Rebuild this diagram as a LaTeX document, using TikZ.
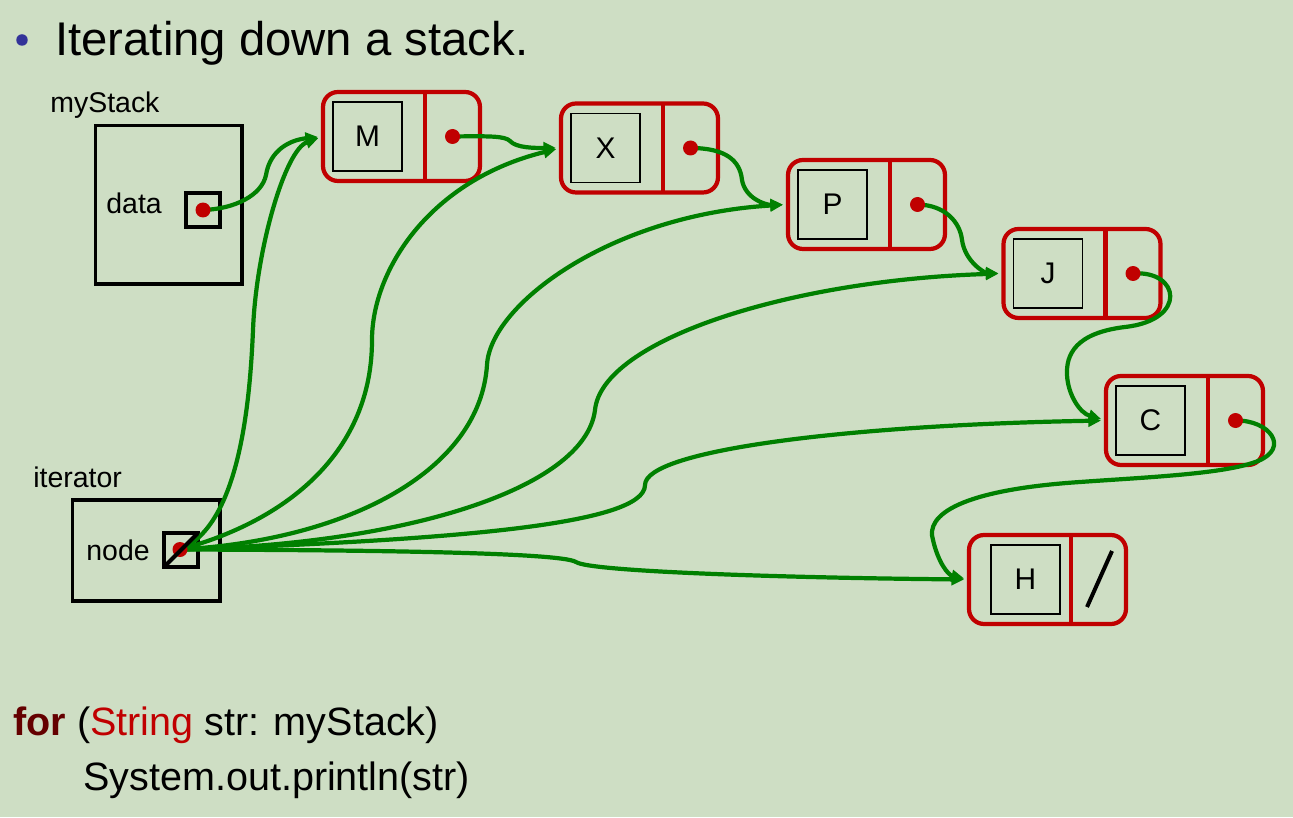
\documentclass[tikz,border=0pt]{standalone}
\usepackage{fontspec}
\setmainfont{Liberation Sans}
\usetikzlibrary{arrows.meta,calc}
\definecolor{bg}{RGB}{206,222,196}
\definecolor{nred}{RGB}{192,0,0}
\definecolor{lgreen}{RGB}{0,128,0}
\definecolor{bulletblue}{RGB}{51,51,153}
\definecolor{kw}{RGB}{100,0,0}
\newcommand{\listcell}[5]{%
  \node[outer] (#1) at (#2,#3) {};
  \node[inbox] (#1v) at ($(#1.north west)+(#5,10)$) {#4};
  \draw[divider] ($(#1.north west)+(102,0)$) -- ($(#1.south west)+(102,0)$);
}
\begin{document}
\begin{tikzpicture}[x=0.02cm,y=-0.02cm,
  outer/.style={draw=nred, line width=2.4pt, rounded corners=0.3cm, minimum width=3.14cm, minimum height=1.78cm, anchor=north west, inner sep=0pt, outer sep=0pt},
  inbox/.style={draw=black, line width=0.9pt, minimum size=1.38cm, anchor=north west, inner sep=0pt, outer sep=0pt, font=\fontsize{17}{20}\selectfont},
  divider/.style={draw=nred, line width=2.4pt},
  refbox/.style={draw=black, line width=2.27pt, anchor=north west, inner sep=0pt, outer sep=0pt},
  ptrbox/.style={draw=black, line width=2.27pt, minimum size=0.68cm, inner sep=0pt, outer sep=0pt},
  dot/.style={circle, fill=nred, minimum size=0.3cm, inner sep=0pt},
  link/.style={draw=lgreen, line width=2.4pt, -{Triangle[length=7.2pt,width=6.6pt]}, shorten >=0.1cm},
  lbl/.style={anchor=base west, inner sep=0pt, font=\fontsize{16.2}{19}\selectfont},
  codetxt/.style={anchor=base west, inner sep=0pt, font=\fontsize{22.5}{27}\selectfont},
  titletxt/.style={anchor=base west, inner sep=0pt, font=\fontsize{26.9}{32}\selectfont}
]
\fill[bg] (0,0) rectangle (1293,817);
\useasboundingbox (0,0) rectangle (1293,817);

% title
\node[circle, fill=bulletblue, minimum size=0.23cm, inner sep=0pt] (bul) at (22,40) {};
\node[titletxt] (title) at (55,56) {Iterating down a stack.};

% myStack
\node[lbl] (lmy) at (50,113) {myStack};
\node[refbox, minimum width=2.93cm, minimum height=3.17cm] (stack) at (95.5,125.5) {};
\node[lbl] (ldata) at (106,214) {data};
\node[ptrbox] (dbox) at (203,210) {};
\coordinate (dd) at (203,210);

% iterator
\node[lbl] (lit) at (33,487) {iterator};
\node[refbox, minimum width=2.95cm, minimum height=2.02cm] (iter) at (72.5,500) {};
\node[lbl] (lnode) at (86,560) {node};
\node[ptrbox] (nbox) at (180.75,550.25) {};
\coordinate (nd) at (180,549.5);

% list cells
\listcell{M}{323}{92}{M}{10}
\listcell{X}{561}{103.5}{X}{10}
\listcell{P}{788}{160}{P}{10}
\listcell{J}{1003.5}{229}{J}{10}
\listcell{C}{1106}{376}{C}{10}
\listcell{H}{969}{535}{H}{22}
\coordinate (Md) at ($(M.north west)+(129.5,44.5)$);
\coordinate (Xd) at ($(X.north west)+(129.5,44.5)$);
\coordinate (Pd) at ($(P.north west)+(129.5,44.5)$);
\coordinate (Jd) at ($(J.north west)+(129.5,44.5)$);
\coordinate (Cd) at ($(C.north west)+(129.5,44.5)$);
\coordinate (Hs1) at (1087,607);
\coordinate (Hs2) at (1112,551);
\draw[line width=2.27pt] (Hs1) -- (Hs2);

% chain links
\draw[link] (dd) .. controls (235,209) and (262,195) .. (266,175) .. controls (270,150) and (290,140) .. (M.west);
\draw[link] (Md) .. controls (490,136) and (505,136) .. (510,141) .. controls (516,148) and (535,148) .. (X.west);
\draw[link] (Xd) .. controls (725,148) and (740,160) .. (742,180) .. controls (745,198) and (765,205) .. (P.west);
\draw[link] (Pd) .. controls (945,205) and (960,222) .. (962,240) .. controls (965,262) and (985,273) .. (J.west);
\draw[link] (Jd) .. controls (1180,270) and (1188,320) .. (1125,327) .. controls (1075,333) and (1066,355) .. (1067,375) .. controls (1068,395) and (1080,413) .. (C.west);
\draw[link] (Cd) .. controls (1270,420) and (1290,448) .. (1258,461) .. controls (1225,474) and (1150,477) .. (1080,482) .. controls (960,490) and (925,515) .. (933,540) .. controls (938,562) and (948,575) .. (H.west);

% iterator links
\draw[link] (nd) .. controls (240,525) and (250,400) .. (253,330) .. controls (256,250) and (285,150) .. (M.west);
\draw[link] (nd) .. controls (290,520) and (372,450) .. (372,340) .. controls (372,270) and (430,180) .. (X.west);
\draw[link] (nd) .. controls (350,540) and (480,470) .. (487,365) .. controls (490,305) and (610,215) .. (P.west);
\draw[link] (nd) .. controls (400,545) and (585,490) .. (595,410) .. controls (602,340) and (790,280) .. (J.west);
\draw[link] (nd) .. controls (450,540) and (645,525) .. (645,485) .. controls (645,450) and (850,425) .. (C.west);
\draw[link] (nd) .. controls (350,550) and (560,552) .. (576,562) .. controls (590,572) and (800,578) .. (H.west);

% dots
\node[dot] (ddot) at (dd) {};
\node[dot] (ndot) at (nd) {};
\node[dot] (Mdot) at (Md) {};
\node[dot] (Xdot) at (Xd) {};
\node[dot] (Pdot) at (Pd) {};
\node[dot] (Jdot) at (Jd) {};
\node[dot] (Cdot) at (Cd) {};
\draw[line width=2.27pt] (nbox.south west) -- (nbox.north east);

% code
\node[codetxt] (code1) at (13,735) {\textbf{\color{kw}for} (\textcolor{nred}{String} str: myStack)};
\node[codetxt] (code2) at (83,790) {System.out.println(str)};
\end{tikzpicture}
\end{document}
